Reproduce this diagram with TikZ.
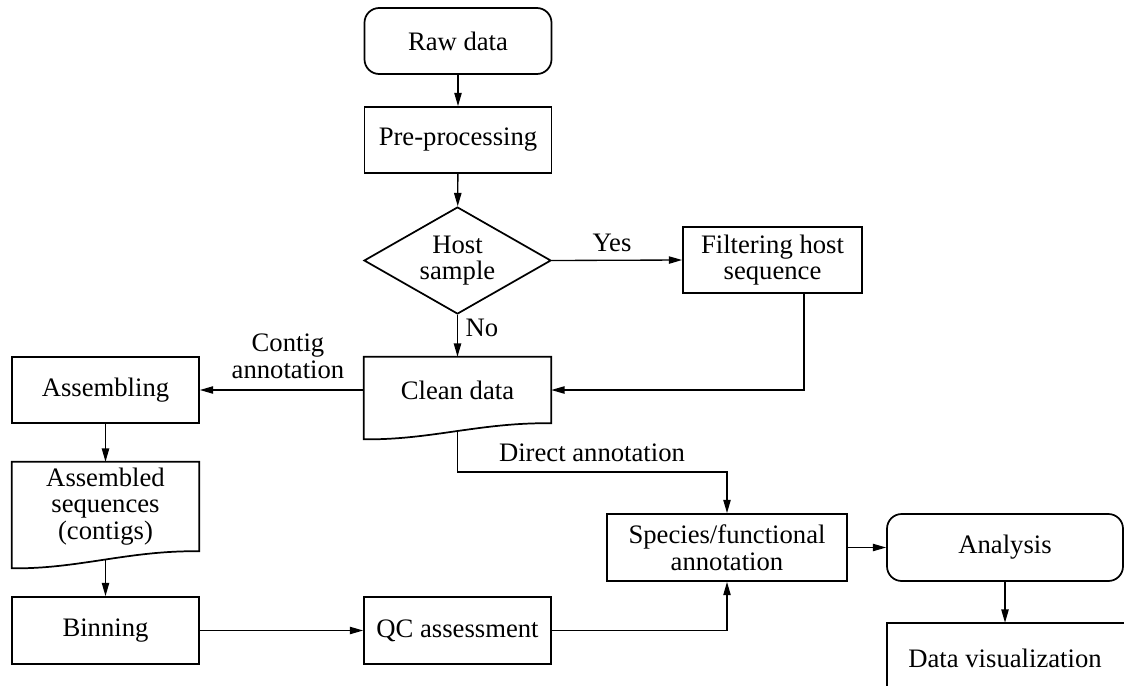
\documentclass[tikz,border=0pt]{standalone}
\usepackage{fontspec}
\setmainfont{Liberation Serif}
\usetikzlibrary{shapes.geometric,arrows.meta,calc}
\begin{document}
\begin{tikzpicture}[x=0.75pt,y=-0.75pt,
  every node/.style={font=\fontsize{20pt}{20pt}\selectfont, inner sep=0pt},
  box/.style={rectangle, draw, line width=1.3pt, minimum width=140.25pt, minimum height=49.5pt, align=center},
  rbox/.style={box, rounded corners=11pt},
  docbox/.style={rectangle, minimum width=140.25pt, align=center},
  decision/.style={diamond, draw, line width=1.3pt, aspect=1.75, minimum width=140.25pt, minimum height=80.25pt, align=center},
  docline/.style={line width=1.3pt, line join=miter},
  arr/.style={line width=1pt, -{Triangle[length=10pt,width=5.5pt]}},
  lbl/.style={align=center}
]
\useasboundingbox (0,0) rectangle (1124,686);

% nodes
\node[rbox] (raw) at (458,41) {Raw data};
\node[box] (pre) at (458,140) {Pre-processing};
\node[decision] (host) at (457.5,260.5) {Host\\sample};
\node[box, minimum width=134.25pt] (filt) at (772.5,260) {Filtering host\\sequence};
\node[docbox, minimum height=49.5pt] (clean) at (457.5,390) {Clean data};
\node[box] (asm) at (105.5,390) {Assembling};
\node[docbox, minimum height=66.75pt] (aseq) at (105.5,506.5) {Assembled\\sequences\\(contigs)};
\node[box, minimum height=50.25pt] (bin) at (105.5,630.5) {Binning};
\node[box, minimum height=50.25pt] (qc) at (457.5,630.5) {QC assessment};
\node[box, minimum width=180pt, minimum height=50.25pt] (spec) at (727,547.5) {Species/functional\\annotation};
\node[rbox, minimum width=177pt, minimum height=50.25pt] (ana) at (1005,547.5) {Analysis};
\node[rectangle, minimum width=177pt, minimum height=52.5pt] (vis) at (1005,658) {Data visualization};

% document outlines
\draw[docline] (clean.north west) -- (clean.north east) -- (clean.south east)
  .. controls +(-71,-1) and +(66,1) .. ($(clean.south west)+(0,16)$) -- cycle;
\draw[docline] (aseq.north west) -- (aseq.north east) -- (aseq.south east)
  .. controls +(-71,-1) and +(66,1) .. ($(aseq.south west)+(0,17)$) -- cycle;
% open box for data visualization (its right and bottom sides lie outside the picture)
\draw[docline] ($(vis.north west)+(0,63)$) -- (vis.north west) -- ($(vis.north east)+(4,0)$);

\coordinate (cleanw) at ($(clean.south)+(0,9)$);
\coordinate (aseqw) at ($(aseq.south)+(0,9)$);
\coordinate (fx) at (804,0);
\coordinate (dy) at (0,472);

% labels
\node[lbl] (yes) at (612,243) {Yes};
\node[lbl] (no) at (482,328) {No};
\node[lbl] (contig) at (288,356.5) {Contig\\annotation};
\node[lbl] (direct) at (592,453) {Direct annotation};

% connectors
\draw[arr] (raw) -- (pre);
\draw[arr] (pre) -- (host);
\draw[arr] (host.east) -- (filt.west);
\draw[arr] (host.south) -- (clean.north);
\draw[arr] (filt.south -| fx) |- (clean.east);
\draw[arr] (clean.west) -- (asm.east);
\draw[arr] (asm) -- (aseq.north);
\draw[arr] (aseqw) -- (bin.north);
\draw[arr] (bin) -- (qc);
\draw[arr] (qc.east) -| (spec.south);
\draw[arr] (cleanw) -- (cleanw |- dy) -| (spec.north);
\draw[arr] (spec) -- (ana);
\draw[arr] (ana) -- (vis.north);
\end{tikzpicture}
\end{document}
